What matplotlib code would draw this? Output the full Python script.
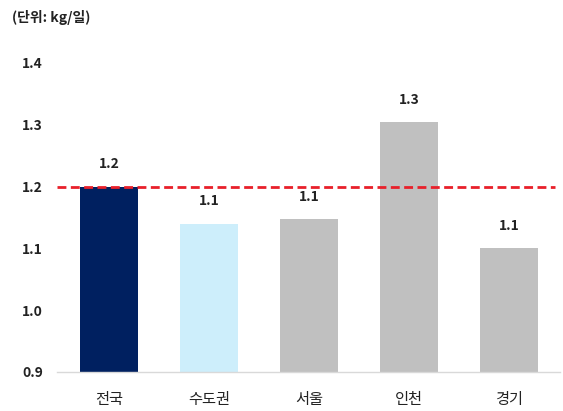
import matplotlib.pyplot as plt
import numpy as np

plt.rcParams['font.family'] = ['Noto Sans CJK KR', 'DejaVu Sans']

regions = ['전국', '수도권', '서울', '인천', '경기']
values = [1.20, 1.14, 1.147, 1.304, 1.10]
labels = ['1.2', '1.1', '1.1', '1.3', '1.1']
colors = ['#002060', '#CDEEFB', '#C0C0C0', '#C0C0C0', '#C0C0C0']
avg_line = 1.2
yticks = [0.9, 1.0, 1.1, 1.2, 1.3, 1.4]

fig = plt.figure(figsize=(5.63, 4.11), dpi=100)
ax = fig.add_axes([0.101, 0.095, 0.894, 0.752])

x = np.arange(len(regions))
bars = ax.bar(x, np.array(values) - 0.9, bottom=0.9, width=0.58, color=colors, zorder=2)

for xi, v, lab in zip(x, values, labels):
    ax.annotate(lab, (xi, v), xytext=(0, 11), textcoords='offset points',
                ha='center', va='bottom', fontsize=10, fontweight='bold', color='#222222')

ax.axhline(avg_line, xmax=0.99, color='#E8202A', linestyle=(0, (3.2, 1.6)), linewidth=2, zorder=3)

ax.set_xlim(-0.52, 4.51)
ax.set_ylim(0.9, 1.4)
ax.set_yticks(yticks)
ax.set_yticklabels([f'{t:.1f}' for t in yticks], fontsize=10, fontweight='bold', color='#222222')
ax.set_xticks(x)
ax.set_xticklabels(regions, fontsize=11, color='#222222')
ax.tick_params(axis='both', length=0)
ax.tick_params(axis='y', pad=10)
ax.tick_params(axis='x', pad=14)

for s in ['top', 'right', 'left']:
    ax.spines[s].set_visible(False)
ax.spines['bottom'].set_color('#D9D9D9')
ax.spines['bottom'].set_linewidth(1)

fig.text(0.022, 0.958, '(단위: kg/일)', fontsize=10, fontweight='bold', color='#222222', va='center')

fig.savefig('out.png', dpi=100)
